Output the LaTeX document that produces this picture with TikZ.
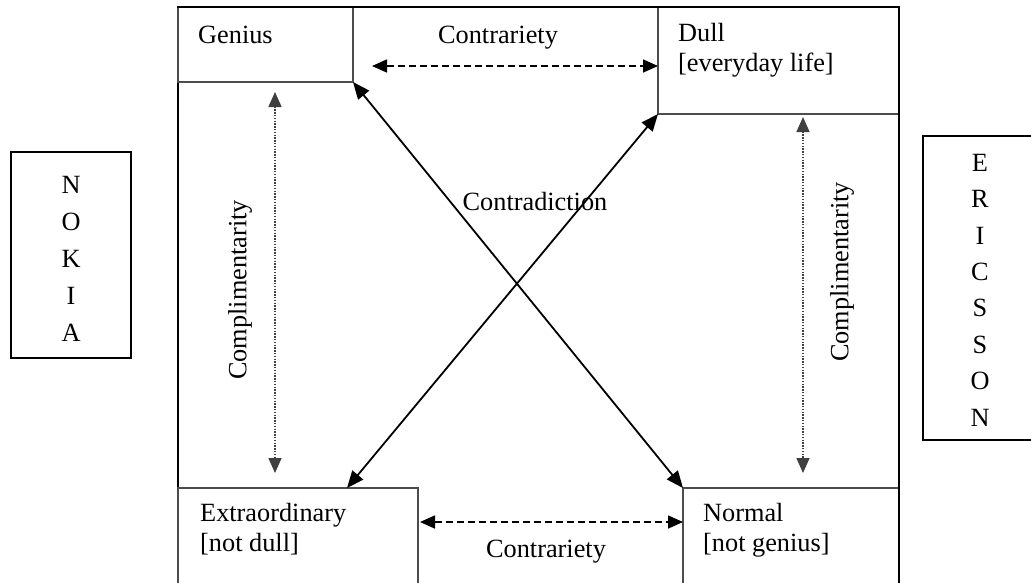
\documentclass[tikz,border=0pt]{standalone}
\usepackage{fontspec}
\setmainfont{Liberation Serif}
\usetikzlibrary{arrows.meta}
\begin{document}
\begin{tikzpicture}[x=1pt,y=-1pt,
  every node/.style={font=\fontsize{26.3}{30.2}\selectfont},
  frame/.style={draw=black,line width=2pt,inner sep=0pt,outer sep=0pt,anchor=north west},
  sidebox/.style={draw=black,line width=2pt,inner sep=0pt,outer sep=0pt,anchor=north west},
  termbox/.style={draw=black!70,fill=white,line width=1.2pt,inner sep=0pt,outer sep=0pt,anchor=north west},
  txt/.style={anchor=base west,inner sep=0pt},
  lbl/.style={inner sep=0pt},
  solidarr/.style={draw=black,line width=1.8pt,{Triangle[length=17pt,width=14pt]}-{Triangle[length=17pt,width=14pt]}},
  dasharr/.style={draw=black,line width=1.6pt,dash pattern=on 7pt off 4pt,{Triangle[length=15pt,width=13pt]}-{Triangle[length=15pt,width=13pt]}},
  dotarr/.style={draw=black!75,line width=1.6pt,dash pattern=on 1.4pt off 1.4pt,{Triangle[length=15pt,width=13pt]}-{Triangle[length=15pt,width=13pt]}},
]
\useasboundingbox (0,0) rectangle (1031,582);
\clip (0,0) rectangle (1031,582);
\fill[white] (0,0) rectangle (1031,582);
% outer frame
\node[frame,minimum width=721pt,minimum height=640pt] (frame) at (178,7) {};
% term boxes
\node[termbox,minimum width=175pt,minimum height=75pt] (genius) at (178,7) {};
\node[termbox,minimum width=241pt,minimum height=107pt] (dull) at (658,7) {};
\node[termbox,minimum width=240pt,minimum height=150pt] (extra) at (178,488) {};
\node[termbox,minimum width=216pt,minimum height=150pt] (normal) at (683,488) {};
\draw[line width=2pt] (899,6) -- (899,600);
\draw[line width=2pt] (177,7) -- (900,7);
% side boxes
\node[sidebox,minimum width=120pt,minimum height=206pt] (nokia) at (11,152) {};
\node[sidebox,minimum width=130pt,minimum height=304pt] (ericsson) at (923,136) {};
% texts
\node[txt] (tgen) at (198,43) {Genius};
\node[txt] (tdull) at (678,41) {Dull};
\node[txt] (tdull2) at (678,71) {[everyday life]};
\node[txt] (text) at (200,521) {Extraordinary};
\node[txt] (text2) at (200,551) {[not dull]};
\node[txt] (tnorm) at (703,521) {Normal};
\node[txt] (tnorm2) at (703,551) {[not genius]};
\node[lbl,anchor=base] (ctop) at (498,43) {Contrariety};
\node[lbl,anchor=base] (cbot) at (546,557) {Contrariety};
\node[lbl,anchor=base] (cdiag) at (535,210) {Contradiction};
\node[lbl,rotate=90] (cleft) at (240,290) {Complimentarity};
\node[lbl,rotate=90] (cright) at (842,272) {Complimentarity};
\node[lbl,align=center,font=\fontsize{26.3}{37}\selectfont] (tnokia) at (71,259) {N\\O\\K\\I\\A};
\node[lbl,align=center,font=\fontsize{26.3}{36.4}\selectfont] (terics) at (980,290) {E\\R\\I\\C\\S\\S\\O\\N};
% connectors
\coordinate (tl) at (372,66);
\coordinate (bl) at (420,522);
\coordinate (ex) at (347,488);
\coordinate (dl1) at (275,92);
\coordinate (dl2) at (275,473);
\coordinate (dr1) at (803,117);
\coordinate (dr2) at (803,473);
\draw[dasharr] (tl) -- (dull.west |- tl);
\draw[dasharr] (bl) -- (normal.west |- bl);
\draw[solidarr] (genius.south east) -- (normal.north west);
\draw[solidarr] (dull.south west) -- (ex);
\draw[dotarr] (dl1) -- (dl2);
\draw[dotarr] (dr1) -- (dr2);
\end{tikzpicture}
\end{document}
